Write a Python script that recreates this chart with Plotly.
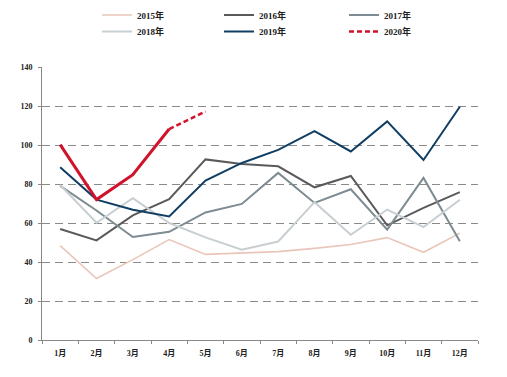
import plotly.graph_objects as go

months = ["1月", "2月", "3月", "4月", "5月", "6月", "7月", "8月", "9月", "10月", "11月", "12月"]
y2015 = [48.4, 31.5, 41.2, 51.5, 43.9, 44.5, 45.3, 47.0, 49.0, 52.5, 45.0, 54.8]
y2016 = [56.9, 51.1, 63.9, 72.2, 92.6, 90.3, 89.1, 78.3, 84.1, 58.8, 67.8, 75.8]
y2017 = [79.0, 66.4, 52.8, 55.5, 65.4, 69.8, 85.7, 70.3, 77.3, 56.6, 83.1, 50.7]
y2018 = [79.5, 60.1, 72.7, 60.0, 52.6, 46.3, 50.5, 70.7, 54.0, 66.9, 57.9, 71.9]
y2019 = [88.6, 72.0, 66.8, 63.4, 81.8, 90.8, 97.5, 107.1, 96.7, 112.1, 92.3, 119.6]
y2020 = [100.2, 72.0, 84.8, 108.2]
y2020_fc = [108.2, 117.2]
yticks = [0, 20, 40, 60, 80, 100, 120, 140]

font_fam = "Liberation Serif, Noto Sans CJK SC, serif"

fig = go.Figure()

def add(name, ys, color, width, legend, dash="solid", show=True, x=None):
    fig.add_trace(go.Scatter(
        x=x if x is not None else months[:len(ys)], y=ys, name=name, mode="lines",
        line=dict(color=color, width=width, dash=dash),
        showlegend=show, legend=legend))

add("2015年", y2015, "#eac6ba", 1.6, "legend")
add("2016年", y2016, "#5a5a5c", 2.0, "legend2")
add("2017年", y2017, "#7d8b92", 2.0, "legend3")
add("2018年", y2018, "#c8cfd2", 2.0, "legend4")
add("2019年", y2019, "#103e63", 2.0, "legend5")
add("2020年", y2020, "#d0122a", 3.0, "legend6", show=False)
add("2020年", y2020_fc, "#d0122a", 2.5, "legend6", dash="5px,3px", x=months[3:5])

def leg(xpx, ypx):
    return dict(x=xpx / 507, y=1 - ypx / 377, xref="container", yref="container",
                xanchor="left", yanchor="middle",
                font=dict(family=font_fam, size=9, color="#222", weight="bold"),
                bgcolor="rgba(0,0,0,0)", itemwidth=30)

cols = [97, 219, 344]
rows = [15, 31.5]

fig.update_layout(
    width=507, height=377,
    margin=dict(l=42, r=29, t=67, b=37, autoexpand=False),
    paper_bgcolor="white", plot_bgcolor="white",
    legend=leg(cols[0], rows[0]),
    legend2=leg(cols[1], rows[0]),
    legend3=leg(cols[2], rows[0]),
    legend4=leg(cols[0], rows[1]),
    legend5=leg(cols[1], rows[1]),
    legend6=leg(cols[2], rows[1]),
    xaxis=dict(type="category", categoryorder="array", categoryarray=months,
               range=[-0.5, 11.5], showgrid=False, showline=True, linecolor="#888",
               linewidth=1, ticks="outside", tickson="boundaries", ticklen=3,
               tickcolor="#888", tickfont=dict(family=font_fam, size=8, color="#222", weight="bold"),
               ticklabelstandoff=5, zeroline=False),
    yaxis=dict(range=[0, 140], tickvals=yticks, showgrid=True, gridcolor="#8a8a8a",
               griddash="8px,5px", gridwidth=1, showline=True, linecolor="#888",
               linewidth=1, ticks="outside", ticklen=3, tickcolor="#888",
               tickfont=dict(family=font_fam, size=8, color="#222", weight="bold"),
               ticklabelstandoff=4, zeroline=False),
)

fig.write_html("out.html", config={"displayModeBar": False},
               post_script="document.body.style.margin='0';document.body.style.padding='0';")
